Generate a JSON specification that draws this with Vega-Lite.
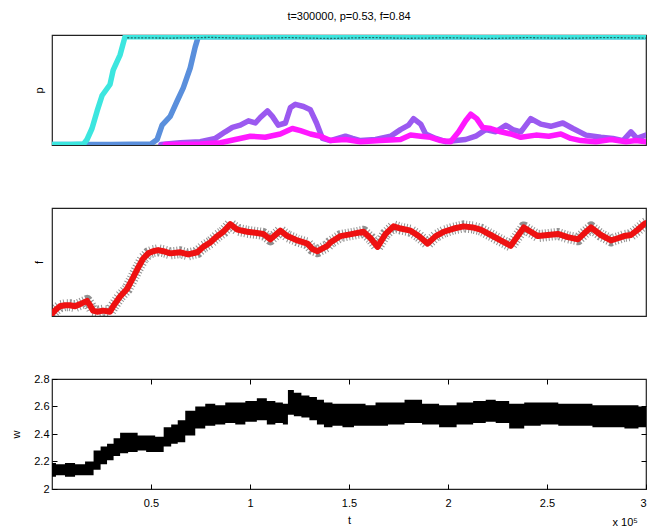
{
  "$schema": "https://vega.github.io/schema/vega-lite/v6.json",
  "background": "white",
  "padding": {"left": 10, "top": 10, "right": 5, "bottom": 0},
  "spacing": 63,
  "bounds": "flush",
  "config": {
    "font": "Liberation Sans",
    "view": {"stroke": "#222", "strokeWidth": 1.2},
    "axis": {"grid": false, "labelFontSize": 11, "labelColor": "#000", "titleFontSize": 11, "titleFontWeight": "normal", "titleColor": "#000", "domain": false}
  },
  "datasets": {
    "pdata": [
      {"t": 0, "p": 0.005, "s": "a"}, {"t": 0.3, "p": 0.005, "s": "a"}, {"t": 0.5, "p": 0.01, "s": "a"}, {"t": 0.531, "p": 0.05, "s": "a"}, {"t": 0.556, "p": 0.18, "s": "a"}, {"t": 0.597, "p": 0.26, "s": "a"}, {"t": 0.632, "p": 0.4, "s": "a"}, {"t": 0.663, "p": 0.52, "s": "a"}, {"t": 0.698, "p": 0.7, "s": "a"}, {"t": 0.723, "p": 0.89, "s": "a"}, {"t": 0.739, "p": 0.985, "s": "a"}, {"t": 1.5, "p": 0.985, "s": "a"}, {"t": 3, "p": 0.985, "s": "a"},
      {"t": 0, "p": 0.005, "s": "b"}, {"t": 0.1, "p": 0.005, "s": "b"}, {"t": 0.16, "p": 0.01, "s": "b"}, {"t": 0.177, "p": 0.05, "s": "b"}, {"t": 0.202, "p": 0.15, "s": "b"}, {"t": 0.228, "p": 0.31, "s": "b"}, {"t": 0.253, "p": 0.45, "s": "b"}, {"t": 0.293, "p": 0.55, "s": "b"}, {"t": 0.309, "p": 0.68, "s": "b"}, {"t": 0.344, "p": 0.82, "s": "b"}, {"t": 0.369, "p": 0.985, "s": "b"}, {"t": 1.0, "p": 0.985, "s": "b"}, {"t": 2.0, "p": 0.985, "s": "b"}, {"t": 3.0, "p": 0.985, "s": "b"},
      {"t": 0.55, "p": 0.005, "s": "c"}, {"t": 0.648, "p": 0.02, "s": "c"}, {"t": 0.749, "p": 0.03, "s": "c"}, {"t": 0.825, "p": 0.06, "s": "c"}, {"t": 0.875, "p": 0.12, "s": "c"}, {"t": 0.911, "p": 0.16, "s": "c"}, {"t": 0.951, "p": 0.18, "s": "c"}, {"t": 0.992, "p": 0.22, "s": "c"}, {"t": 1.027, "p": 0.2, "s": "c"}, {"t": 1.052, "p": 0.25, "s": "c"}, {"t": 1.088, "p": 0.31, "s": "c"}, {"t": 1.113, "p": 0.26, "s": "c"}, {"t": 1.143, "p": 0.18, "s": "c"}, {"t": 1.179, "p": 0.2, "s": "c"}, {"t": 1.204, "p": 0.34, "s": "c"}, {"t": 1.229, "p": 0.37, "s": "c"}, {"t": 1.27, "p": 0.35, "s": "c"}, {"t": 1.305, "p": 0.32, "s": "c"}, {"t": 1.336, "p": 0.2, "s": "c"}, {"t": 1.366, "p": 0.06, "s": "c"}, {"t": 1.406, "p": 0.04, "s": "c"}, {"t": 1.482, "p": 0.08, "s": "c"}, {"t": 1.518, "p": 0.06, "s": "c"}, {"t": 1.558, "p": 0.04, "s": "c"}, {"t": 1.634, "p": 0.05, "s": "c"}, {"t": 1.71, "p": 0.08, "s": "c"}, {"t": 1.76, "p": 0.14, "s": "c"}, {"t": 1.801, "p": 0.18, "s": "c"}, {"t": 1.826, "p": 0.24, "s": "c"}, {"t": 1.862, "p": 0.19, "s": "c"}, {"t": 1.887, "p": 0.1, "s": "c"}, {"t": 1.938, "p": 0.06, "s": "c"}, {"t": 1.988, "p": 0.03, "s": "c"}, {"t": 2.039, "p": 0.04, "s": "c"}, {"t": 2.089, "p": 0.05, "s": "c"}, {"t": 2.14, "p": 0.08, "s": "c"}, {"t": 2.19, "p": 0.14, "s": "c"}, {"t": 2.241, "p": 0.12, "s": "c"}, {"t": 2.292, "p": 0.18, "s": "c"}, {"t": 2.327, "p": 0.14, "s": "c"}, {"t": 2.368, "p": 0.12, "s": "c"}, {"t": 2.418, "p": 0.24, "s": "c"}, {"t": 2.469, "p": 0.19, "s": "c"}, {"t": 2.519, "p": 0.17, "s": "c"}, {"t": 2.58, "p": 0.2, "s": "c"}, {"t": 2.631, "p": 0.15, "s": "c"}, {"t": 2.697, "p": 0.09, "s": "c"}, {"t": 2.772, "p": 0.07, "s": "c"}, {"t": 2.833, "p": 0.06, "s": "c"}, {"t": 2.884, "p": 0.04, "s": "c"}, {"t": 2.924, "p": 0.12, "s": "c"}, {"t": 2.954, "p": 0.06, "s": "c"}, {"t": 3.0, "p": 0.09, "s": "c"},
      {"t": 0.572, "p": 0.005, "s": "d"}, {"t": 0.749, "p": 0.01, "s": "d"}, {"t": 0.85, "p": 0.02, "s": "d"}, {"t": 0.926, "p": 0.05, "s": "d"}, {"t": 1.002, "p": 0.08, "s": "d"}, {"t": 1.077, "p": 0.07, "s": "d"}, {"t": 1.153, "p": 0.1, "s": "d"}, {"t": 1.214, "p": 0.15, "s": "d"}, {"t": 1.255, "p": 0.13, "s": "d"}, {"t": 1.305, "p": 0.1, "s": "d"}, {"t": 1.356, "p": 0.08, "s": "d"}, {"t": 1.406, "p": 0.04, "s": "d"}, {"t": 1.482, "p": 0.05, "s": "d"}, {"t": 1.558, "p": 0.03, "s": "d"}, {"t": 1.659, "p": 0.04, "s": "d"}, {"t": 1.76, "p": 0.05, "s": "d"}, {"t": 1.811, "p": 0.09, "s": "d"}, {"t": 1.862, "p": 0.08, "s": "d"}, {"t": 1.912, "p": 0.07, "s": "d"}, {"t": 1.963, "p": 0.04, "s": "d"}, {"t": 2.013, "p": 0.03, "s": "d"}, {"t": 2.054, "p": 0.12, "s": "d"}, {"t": 2.089, "p": 0.22, "s": "d"}, {"t": 2.115, "p": 0.28, "s": "d"}, {"t": 2.145, "p": 0.24, "s": "d"}, {"t": 2.175, "p": 0.16, "s": "d"}, {"t": 2.216, "p": 0.15, "s": "d"}, {"t": 2.266, "p": 0.12, "s": "d"}, {"t": 2.317, "p": 0.1, "s": "d"}, {"t": 2.368, "p": 0.07, "s": "d"}, {"t": 2.444, "p": 0.09, "s": "d"}, {"t": 2.509, "p": 0.08, "s": "d"}, {"t": 2.57, "p": 0.1, "s": "d"}, {"t": 2.62, "p": 0.06, "s": "d"}, {"t": 2.671, "p": 0.04, "s": "d"}, {"t": 2.747, "p": 0.03, "s": "d"}, {"t": 2.823, "p": 0.05, "s": "d"}, {"t": 2.899, "p": 0.03, "s": "d"}, {"t": 2.949, "p": 0.04, "s": "d"}, {"t": 3.0, "p": 0.03, "s": "d"},
      {"t": 0.38, "p": 0.975, "s": "n"}, {"t": 0.6, "p": 0.972, "s": "n"}, {"t": 0.8, "p": 0.978, "s": "n"}, {"t": 1.0, "p": 0.97, "s": "n"}, {"t": 1.2, "p": 0.976, "s": "n"}, {"t": 1.4, "p": 0.968, "s": "n"}, {"t": 1.6, "p": 0.977, "s": "n"}, {"t": 1.8, "p": 0.97, "s": "n"}, {"t": 2.0, "p": 0.975, "s": "n"}, {"t": 2.2, "p": 0.968, "s": "n"}, {"t": 2.4, "p": 0.976, "s": "n"}, {"t": 2.6, "p": 0.97, "s": "n"}, {"t": 2.8, "p": 0.977, "s": "n"}, {"t": 3.0, "p": 0.972, "s": "n"}
    ],
    "fdata": [
      {"t": 0, "f": 0.02}, {"t": 0.02, "f": 0.06}, {"t": 0.04, "f": 0.09}, {"t": 0.066, "f": 0.1}, {"t": 0.091, "f": 0.1}, {"t": 0.116, "f": 0.09}, {"t": 0.142, "f": 0.11}, {"t": 0.177, "f": 0.14}, {"t": 0.192, "f": 0.1}, {"t": 0.207, "f": 0.05}, {"t": 0.228, "f": 0.04}, {"t": 0.258, "f": 0.05}, {"t": 0.293, "f": 0.04}, {"t": 0.309, "f": 0.09}, {"t": 0.344, "f": 0.18}, {"t": 0.379, "f": 0.25}, {"t": 0.405, "f": 0.34}, {"t": 0.43, "f": 0.43}, {"t": 0.46, "f": 0.53}, {"t": 0.486, "f": 0.58}, {"t": 0.511, "f": 0.6}, {"t": 0.536, "f": 0.61}, {"t": 0.562, "f": 0.6}, {"t": 0.597, "f": 0.58}, {"t": 0.648, "f": 0.59}, {"t": 0.688, "f": 0.57}, {"t": 0.734, "f": 0.59}, {"t": 0.764, "f": 0.64}, {"t": 0.799, "f": 0.68}, {"t": 0.835, "f": 0.74}, {"t": 0.865, "f": 0.78}, {"t": 0.9, "f": 0.85}, {"t": 0.936, "f": 0.8}, {"t": 0.986, "f": 0.78}, {"t": 1.027, "f": 0.77}, {"t": 1.067, "f": 0.76}, {"t": 1.103, "f": 0.71}, {"t": 1.128, "f": 0.75}, {"t": 1.153, "f": 0.79}, {"t": 1.189, "f": 0.74}, {"t": 1.239, "f": 0.7}, {"t": 1.29, "f": 0.67}, {"t": 1.315, "f": 0.62}, {"t": 1.341, "f": 0.6}, {"t": 1.391, "f": 0.65}, {"t": 1.406, "f": 0.68}, {"t": 1.457, "f": 0.74}, {"t": 1.518, "f": 0.76}, {"t": 1.573, "f": 0.78}, {"t": 1.609, "f": 0.72}, {"t": 1.644, "f": 0.64}, {"t": 1.685, "f": 0.76}, {"t": 1.725, "f": 0.83}, {"t": 1.761, "f": 0.81}, {"t": 1.811, "f": 0.79}, {"t": 1.852, "f": 0.74}, {"t": 1.897, "f": 0.67}, {"t": 1.938, "f": 0.74}, {"t": 1.978, "f": 0.78}, {"t": 2.029, "f": 0.81}, {"t": 2.079, "f": 0.83}, {"t": 2.125, "f": 0.82}, {"t": 2.165, "f": 0.8}, {"t": 2.216, "f": 0.75}, {"t": 2.266, "f": 0.7}, {"t": 2.317, "f": 0.65}, {"t": 2.352, "f": 0.74}, {"t": 2.383, "f": 0.82}, {"t": 2.418, "f": 0.78}, {"t": 2.454, "f": 0.74}, {"t": 2.504, "f": 0.75}, {"t": 2.555, "f": 0.76}, {"t": 2.605, "f": 0.73}, {"t": 2.656, "f": 0.71}, {"t": 2.691, "f": 0.77}, {"t": 2.722, "f": 0.82}, {"t": 2.772, "f": 0.75}, {"t": 2.823, "f": 0.7}, {"t": 2.858, "f": 0.72}, {"t": 2.889, "f": 0.74}, {"t": 2.924, "f": 0.75}, {"t": 2.959, "f": 0.8}, {"t": 2.99, "f": 0.85}, {"t": 3.0, "f": 0.86}
    ],
    "wdata": [
      {"t": 0, "lo": 2.09, "hi": 2.19}, {"t": 0.04, "lo": 2.1, "hi": 2.18}, {"t": 0.091, "lo": 2.09, "hi": 2.19}, {"t": 0.142, "lo": 2.1, "hi": 2.18}, {"t": 0.192, "lo": 2.1, "hi": 2.2}, {"t": 0.228, "lo": 2.14, "hi": 2.28}, {"t": 0.263, "lo": 2.18, "hi": 2.31}, {"t": 0.293, "lo": 2.21, "hi": 2.33}, {"t": 0.329, "lo": 2.24, "hi": 2.37}, {"t": 0.359, "lo": 2.26, "hi": 2.41}, {"t": 0.41, "lo": 2.27, "hi": 2.41}, {"t": 0.455, "lo": 2.28, "hi": 2.39}, {"t": 0.496, "lo": 2.27, "hi": 2.39}, {"t": 0.546, "lo": 2.27, "hi": 2.38}, {"t": 0.582, "lo": 2.31, "hi": 2.45}, {"t": 0.622, "lo": 2.33, "hi": 2.47}, {"t": 0.648, "lo": 2.34, "hi": 2.5}, {"t": 0.698, "lo": 2.39, "hi": 2.57}, {"t": 0.749, "lo": 2.44, "hi": 2.6}, {"t": 0.799, "lo": 2.46, "hi": 2.62}, {"t": 0.85, "lo": 2.47, "hi": 2.61}, {"t": 0.9, "lo": 2.48, "hi": 2.63}, {"t": 0.951, "lo": 2.47, "hi": 2.63}, {"t": 1.002, "lo": 2.49, "hi": 2.64}, {"t": 1.067, "lo": 2.5, "hi": 2.66}, {"t": 1.103, "lo": 2.47, "hi": 2.64}, {"t": 1.153, "lo": 2.48, "hi": 2.63}, {"t": 1.179, "lo": 2.47, "hi": 2.62}, {"t": 1.204, "lo": 2.54, "hi": 2.72}, {"t": 1.239, "lo": 2.53, "hi": 2.7}, {"t": 1.28, "lo": 2.52, "hi": 2.68}, {"t": 1.32, "lo": 2.5, "hi": 2.67}, {"t": 1.356, "lo": 2.47, "hi": 2.65}, {"t": 1.391, "lo": 2.45, "hi": 2.63}, {"t": 1.442, "lo": 2.46, "hi": 2.62}, {"t": 1.492, "lo": 2.45, "hi": 2.62}, {"t": 1.558, "lo": 2.46, "hi": 2.62}, {"t": 1.609, "lo": 2.46, "hi": 2.61}, {"t": 1.659, "lo": 2.46, "hi": 2.63}, {"t": 1.735, "lo": 2.47, "hi": 2.63}, {"t": 1.826, "lo": 2.48, "hi": 2.65}, {"t": 1.912, "lo": 2.47, "hi": 2.62}, {"t": 1.998, "lo": 2.45, "hi": 2.61}, {"t": 2.089, "lo": 2.47, "hi": 2.63}, {"t": 2.165, "lo": 2.48, "hi": 2.64}, {"t": 2.216, "lo": 2.49, "hi": 2.65}, {"t": 2.266, "lo": 2.48, "hi": 2.64}, {"t": 2.352, "lo": 2.44, "hi": 2.62}, {"t": 2.418, "lo": 2.46, "hi": 2.63}, {"t": 2.519, "lo": 2.47, "hi": 2.63}, {"t": 2.595, "lo": 2.46, "hi": 2.62}, {"t": 2.687, "lo": 2.46, "hi": 2.62}, {"t": 2.772, "lo": 2.45, "hi": 2.61}, {"t": 2.858, "lo": 2.45, "hi": 2.61}, {"t": 2.924, "lo": 2.44, "hi": 2.61}, {"t": 3.0, "lo": 2.45, "hi": 2.6}
    ]
  },
  "vconcat": [
    {
      "title": {"text": "t=300000, p=0.53, f=0.84", "fontSize": 11, "fontWeight": "normal", "frame": "group", "anchor": "middle", "offset": 13, "color": "#000"},
      "width": 594,
      "height": 110,
      "data": {"name": "pdata"},
      "layer": [
        {
          "transform": [{"filter": "datum.s != 'n'"}],
          "mark": {"type": "line", "strokeWidth": 5.5, "clip": true, "strokeJoin": "round", "strokeCap": "round"},
          "encoding": {
            "x": {"field": "t", "type": "quantitative", "scale": {"domain": [0, 3], "nice": false}, "axis": null},
            "y": {"field": "p", "type": "quantitative", "scale": {"domain": [0, 1], "nice": false}, "axis": {"title": "p", "labels": false, "ticks": false, "titlePadding": 8}},
            "color": {"field": "s", "type": "nominal", "scale": {"domain": ["a", "b", "c", "d"], "range": ["#5a8fdc", "#3ce6df", "#9b59f0", "#ff18ff"]}, "legend": null}
          }
        },
        {
          "transform": [{"filter": "datum.s == 'n'"}],
          "mark": {"type": "line", "strokeWidth": 1.3, "color": "#1c4a4a", "strokeDash": [2, 1.5], "clip": true, "opacity": 0.8},
          "encoding": {
            "x": {"field": "t", "type": "quantitative"},
            "y": {"field": "p", "type": "quantitative"}
          }
        }
      ]
    },
    {
      "width": 594,
      "height": 108,
      "data": {"name": "fdata"},
      "encoding": {
        "x": {"field": "t", "type": "quantitative", "scale": {"domain": [0, 3], "nice": false}, "axis": null},
        "y": {"field": "f", "type": "quantitative", "scale": {"domain": [0, 1], "nice": false}, "axis": {"title": "f", "labels": false, "ticks": false, "titlePadding": 8}}
      },
      "layer": [
        {"mark": {"type": "line", "strokeWidth": 12, "color": "#222", "opacity": 0.5, "strokeDash": [1, 2], "clip": true, "strokeJoin": "round"}},
        {"mark": {"type": "line", "strokeWidth": 6, "color": "#ee1111", "clip": true, "strokeJoin": "round", "strokeCap": "round"}}
      ]
    },
    {
      "width": 594,
      "height": 110,
      "data": {"name": "wdata"},
      "resolve": {"axis": {"x": "independent", "y": "independent"}},
      "layer": [
        {
          "mark": {"type": "area", "color": "#000", "clip": true, "interpolate": "step"},
          "encoding": {
            "x": {"field": "t", "type": "quantitative", "scale": {"domain": [0, 3], "nice": false}, "axis": {"orient": "bottom", "values": [0.5, 1, 1.5, 2, 2.5, 3], "format": "~g", "tickSize": -5, "tickColor": "#000", "labelPadding": 13, "title": "t", "titlePadding": 6}},
            "y": {"field": "lo", "type": "quantitative", "scale": {"domain": [2, 2.8], "nice": false, "zero": false}, "axis": {"orient": "left", "values": [2, 2.2, 2.4, 2.6, 2.8], "format": "~g", "tickSize": -5, "tickColor": "#000", "labelPadding": 8, "title": "w", "titlePadding": 12}},
            "y2": {"field": "hi"}
          }
        },
        {
          "mark": {"type": "point", "opacity": 0},
          "encoding": {
            "x": {"field": "t", "type": "quantitative", "axis": {"orient": "top", "values": [0.5, 1, 1.5, 2, 2.5], "tickSize": -5, "tickColor": "#000", "labels": false, "title": null}},
            "y": {"field": "lo", "type": "quantitative", "axis": {"orient": "right", "values": [2.2, 2.4, 2.6], "tickSize": -5, "tickColor": "#000", "labels": false, "title": null}}
          }
        },
        {
          "mark": {"type": "point", "opacity": 0},
          "encoding": {
            "x": {"field": "t", "type": "quantitative", "axis": {"orient": "bottom", "labels": false, "ticks": false, "title": "x 10⁵", "titleX": 560, "titleY": 33, "titleAlign": "left", "titleBaseline": "middle", "titleFontSize": 11}}
          }
        }
      ]
    }
  ]
}
